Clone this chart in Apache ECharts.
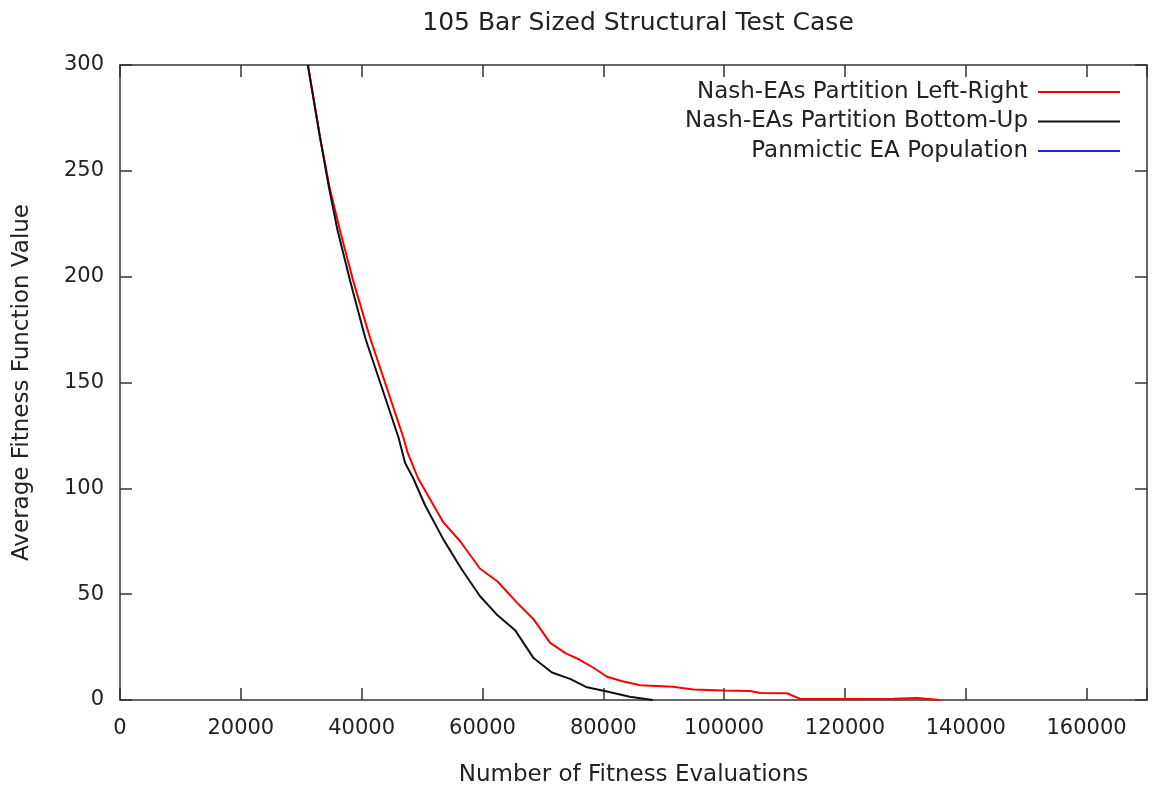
<!DOCTYPE html>
<html>
<head>
<meta charset="utf-8">
<script src="https://cdn.jsdelivr.net/npm/echarts@6/dist/echarts.min.js"></script>
<style>html,body{margin:0;padding:0;background:#fff;}#c{width:1156px;height:788px;}</style>
</head>
<body>
<div id="c"></div>
<script>
const seriesNames = ['Nash-EAs Partition Left-Right', 'Nash-EAs Partition Bottom-Up', 'Panmictic EA Population'];
const leftRightX = [31100, 33100, 34700, 36400, 38600, 41400, 44100, 46900, 47600, 49300, 50500, 53500, 56300, 59600, 62500, 65700, 68500, 71200, 73800, 76100, 78500, 80600, 83000, 86100, 91500, 94900, 99800, 104300, 106000, 110400, 112600, 120000, 128000, 132000, 135700];
const leftRightY = [300, 266, 242, 222, 198, 171, 148, 124, 117, 105, 99, 84, 75, 62, 56, 46, 38, 27, 22, 19, 15, 11, 9, 7, 6.3, 5, 4.5, 4.3, 3.3, 3.2, 0.5, 0.5, 0.6, 1, 0];
const bottomUpX = [31100, 33100, 34600, 36000, 38100, 40600, 43300, 46100, 47200, 48500, 50500, 53500, 56500, 59600, 62500, 65400, 68400, 71500, 74500, 77300, 80600, 84400, 88200];
const bottomUpY = [300, 266, 242, 222, 198, 171, 148, 124, 112, 105, 92, 76, 62, 49, 40, 33, 20, 13, 10, 6, 4, 1.5, 0];
const panmicticX = [];
const panmicticY = [];
const xTicks = [0, 20000, 40000, 60000, 80000, 100000, 120000, 140000, 160000];
const yTicks = [0, 50, 100, 150, 200, 250, 300];

function pairs(xs, ys) { return xs.map((x, i) => [x, ys[i]]); }

const FONT = 'DejaVu Sans';
const chart = echarts.init(document.getElementById('c'));
const mkLine = () => ({ show: true, onZero: false, lineStyle: { color: '#333', width: 1.5 } });
const mkTick = () => ({ show: true, inside: true, length: 12, lineStyle: { color: '#333', width: 1.5 } });
chart.setOption({
  backgroundColor: '#fff',
  animation: false,
  title: {
    text: '105 Bar Sized Structural Test Case',
    left: 633, top: 6, textAlign: 'center',
    textStyle: { fontFamily: FONT, fontWeight: 'normal', fontSize: 25, color: '#222' }
  },
  legend: {
    orient: 'vertical', align: 'right', right: 31, top: 75,
    itemWidth: 82, itemHeight: 2, itemGap: 5.5, icon: 'rect',
    textStyle: { fontFamily: FONT, fontSize: 23, color: '#222', lineHeight: 24, padding: [0, 5, 0, 0] },
    data: seriesNames
  },
  grid: { left: 120, right: 9, top: 65, bottom: 88, outerBoundsMode: 'none', containLabel: false },
  xAxis: [{
    type: 'value', min: 0, max: 170000, interval: 20000,
    name: 'Number of Fitness Evaluations', nameLocation: 'middle', nameGap: 64,
    nameTextStyle: { fontFamily: FONT, fontSize: 23, color: '#222' },
    axisLine: mkLine(), axisTick: mkTick(), splitLine: { show: false },
    axisLabel: { fontFamily: FONT, fontSize: 21, color: '#222', margin: 18,
      formatter: v => xTicks.includes(v) ? String(v) : '' }
  }, {
    type: 'value', position: 'top', min: 0, max: 170000, interval: 20000,
    axisLine: mkLine(), axisTick: mkTick(), axisLabel: { show: false }, splitLine: { show: false }
  }],
  yAxis: [{
    type: 'value', min: 0, max: 300, interval: 50,
    name: 'Average Fitness Function Value', nameLocation: 'middle', nameGap: 86,
    nameTextStyle: { fontFamily: FONT, fontSize: 23, color: '#222' },
    axisLine: mkLine(), axisTick: mkTick(), splitLine: { show: false },
    axisLabel: { fontFamily: FONT, fontSize: 21, color: '#222', margin: 16,
      formatter: v => yTicks.includes(v) ? String(v) : '' }
  }, {
    type: 'value', position: 'right', min: 0, max: 300, interval: 50,
    axisLine: mkLine(), axisTick: mkTick(), axisLabel: { show: false }, splitLine: { show: false }
  }],
  series: [
    { name: seriesNames[0], type: 'line', data: pairs(leftRightX, leftRightY), showSymbol: false, symbol: 'none',
      color: '#ff0000', lineStyle: { color: '#ff0000', width: 2 }, clip: true, z: 3 },
    { name: seriesNames[1], type: 'line', data: pairs(bottomUpX, bottomUpY), showSymbol: false, symbol: 'none',
      color: '#111111', lineStyle: { color: '#111111', width: 2 }, clip: true, z: 4 },
    { name: seriesNames[2], type: 'line', data: pairs(panmicticX, panmicticY), showSymbol: false, symbol: 'none',
      color: '#2020ff', lineStyle: { color: '#2020ff', width: 2 }, clip: true, z: 2 }
  ]
});
</script>
</body>
</html>
